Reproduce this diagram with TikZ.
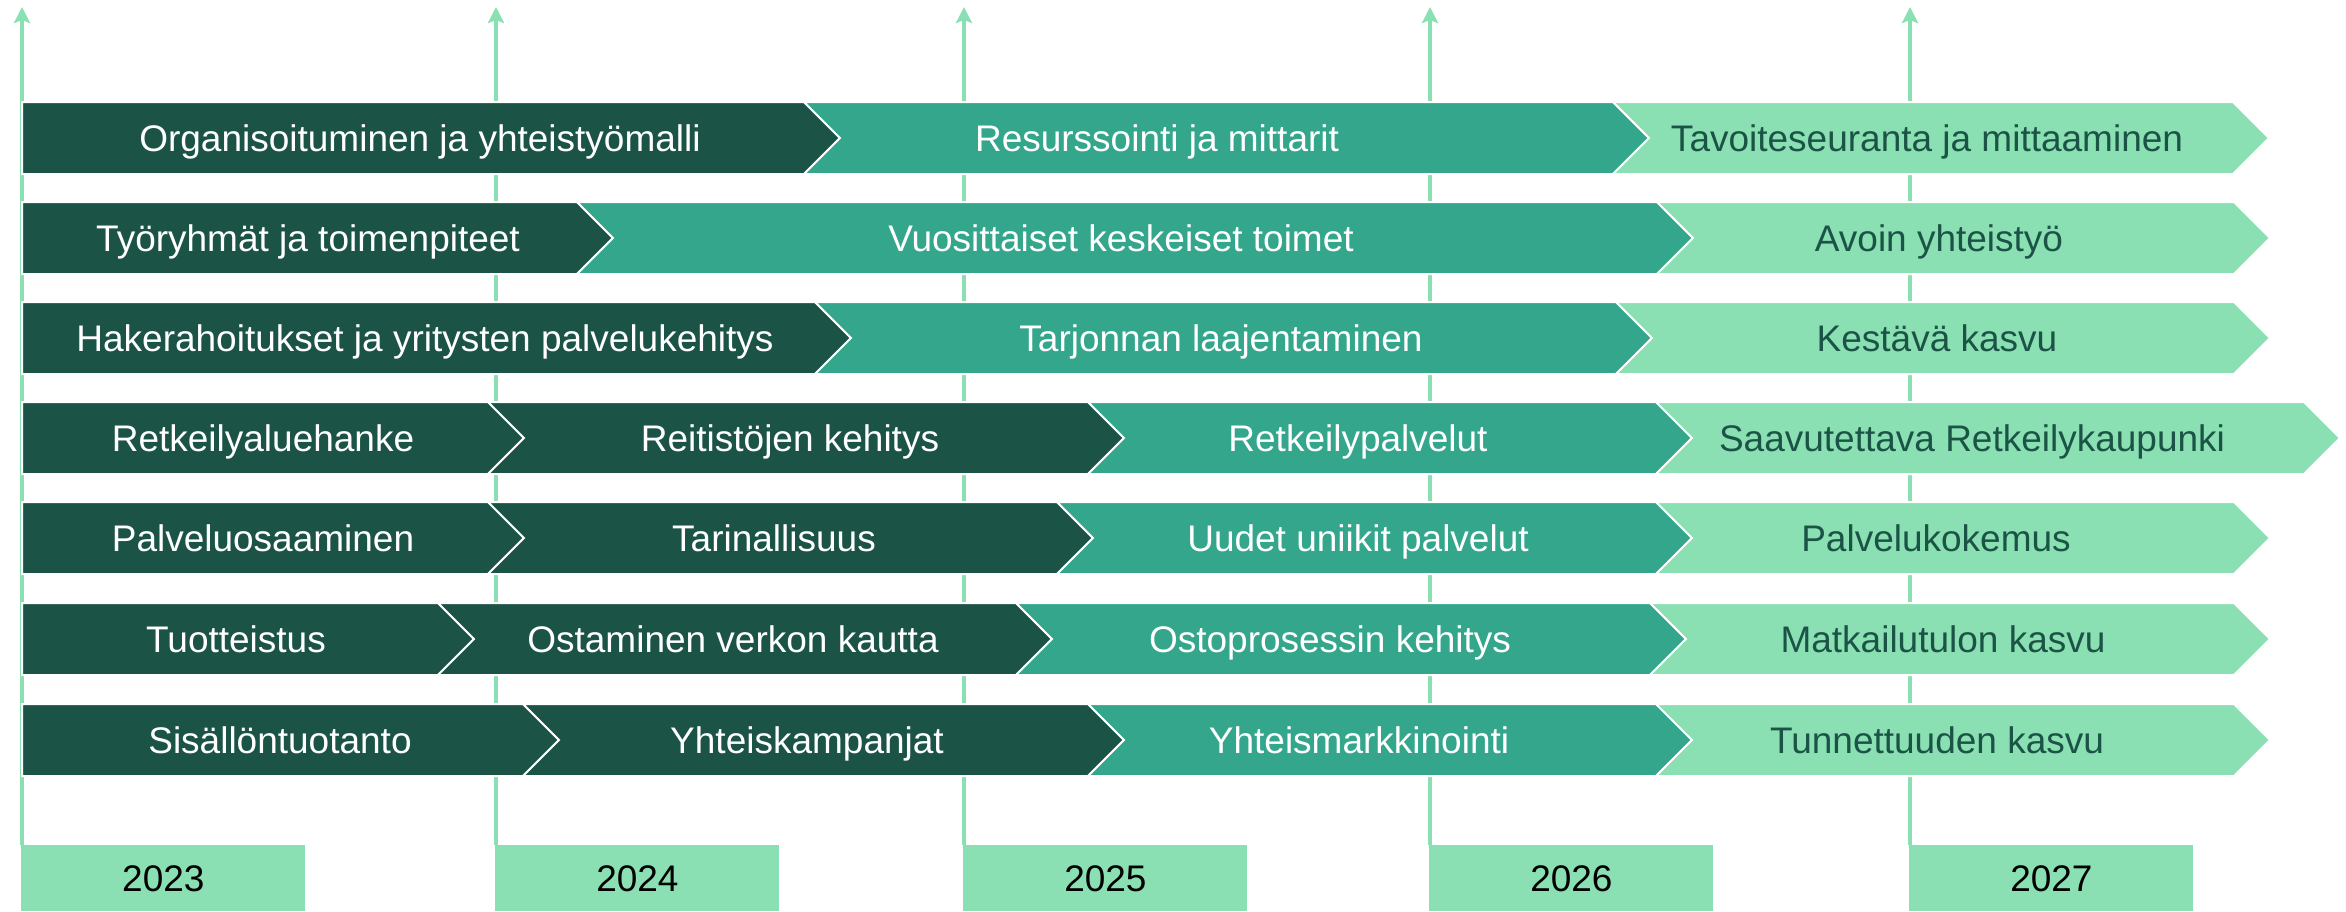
\documentclass[tikz,border=0pt]{standalone}
\usepackage{fontspec}
\setmainfont{Liberation Sans}
\usetikzlibrary{arrows.meta}
\definecolor{darkgreen}{HTML}{1B5446}
\definecolor{midgreen}{HTML}{33A68C}
\definecolor{palegreen}{HTML}{8AE0B2}
\tikzset{
  darkbar/.style={fill=darkgreen, draw=white, line width=1pt},
  midbar/.style={fill=midgreen, draw=white, line width=1pt},
  palebar/.style={fill=palegreen, draw=white, line width=1pt},
  bartext/.style={inner sep=0pt, text height=13.2pt, text depth=0pt, font=\fontsize{18.5}{22}\selectfont},
  darkbartxt/.style={bartext, text=white},
  midbartxt/.style={bartext, text=white},
  palebartxt/.style={bartext, text=darkgreen},
  yearbox/.style={bartext, fill=palegreen, text=black, minimum width=142pt, minimum height=33pt, anchor=north west},
  axis/.style={palegreen, line width=1.8pt, -{Stealth[length=8pt,width=8pt,inset=1.5pt]}}
}
% first chevron of a row: flat left end
\newcommand{\firstchev}[6]{%
  \draw[#4] (22,#2) -- (#3,#2) -- ++(36,36) -- ++(-36,36) -- (22,#2+72) -- cycle;
  \node[#4txt] (#1) at (#5,#2+36) {#6};}
% following chevrons: notched left end
\newcommand{\chevseg}[7]{%
  \draw[#5] (#3,#2) -- (#4,#2) -- ++(36,36) -- ++(-36,36) -- (#3,#2+72) -- ++(36,-36) -- cycle;
  \node[#5txt] (#1) at (#6,#2+36) {#7};}
\begin{document}
\begin{tikzpicture}[x=0.5pt, y=-0.5pt]
\useasboundingbox (0,0) rectangle (2346,911);
% years
\node[yearbox] (y2023) at (21,845) {2023};
\node[yearbox] (y2024) at (495,845) {2024};
\node[yearbox] (y2025) at (963,845) {2025};
\node[yearbox] (y2026) at (1429,845) {2026};
\node[yearbox] (y2027) at (1909,845) {2027};
\coordinate (top) at (0,7);
\foreach \y in {2023,...,2027}
  \draw[axis] ([xshift=0.5pt]y\y.north west) -- ([xshift=0.5pt]y\y.north west |- top);
% row 1
\firstchev{r1a}{102}{804}{darkbar}{420}{Organisoituminen ja yhteistyömalli}
\chevseg{r1b}{102}{804}{1613}{midbar}{1157}{Resurssointi ja mittarit}
\chevseg{r1c}{102}{1613}{2233}{palebar}{1927}{Tavoiteseuranta ja mittaaminen}
% row 2
\firstchev{r2a}{202}{577}{darkbar}{308}{Työryhmät ja toimenpiteet}
\chevseg{r2b}{202}{577}{1657}{midbar}{1121}{Vuosittaiset keskeiset toimet}
\chevseg{r2c}{202}{1657}{2234}{palebar}{1939}{Avoin yhteistyö}
% row 3
\firstchev{r3a}{302}{815}{darkbar}{425}{Hakerahoitukset ja yritysten palvelukehitys}
\chevseg{r3b}{302}{815}{1616}{midbar}{1221}{Tarjonnan laajentaminen}
\chevseg{r3c}{302}{1616}{2234}{palebar}{1937}{Kestävä kasvu}
% row 4
\firstchev{r4a}{402}{488}{darkbar}{263}{Retkeilyaluehanke}
\chevseg{r4b}{402}{488}{1088}{darkbar}{790}{Reitistöjen kehitys}
\chevseg{r4c}{402}{1088}{1656}{midbar}{1358}{Retkeilypalvelut}
\chevseg{r4d}{402}{1656}{2304}{palebar}{1972}{Saavutettava Retkeilykaupunki}
% row 5
\firstchev{r5a}{502}{488}{darkbar}{263}{Palveluosaaminen}
\chevseg{r5b}{502}{488}{1057}{darkbar}{774}{Tarinallisuus}
\chevseg{r5c}{502}{1057}{1656}{midbar}{1358}{Uudet uniikit palvelut}
\chevseg{r5d}{502}{1656}{2234}{palebar}{1936}{Palvelukokemus}
% row 6
\firstchev{r6a}{603}{438}{darkbar}{236}{Tuotteistus}
\chevseg{r6b}{603}{438}{1016}{darkbar}{733}{Ostaminen verkon kautta}
\chevseg{r6c}{603}{1016}{1650}{midbar}{1330}{Ostoprosessin kehitys}
\chevseg{r6d}{603}{1650}{2234}{palebar}{1943}{Matkailutulon kasvu}
% row 7
\firstchev{r7a}{704}{523}{darkbar}{280}{Sisällöntuotanto}
\chevseg{r7b}{704}{523}{1088}{darkbar}{807}{Yhteiskampanjat}
\chevseg{r7c}{704}{1088}{1656}{midbar}{1359}{Yhteismarkkinointi}
\chevseg{r7d}{704}{1656}{2234}{palebar}{1937}{Tunnettuuden kasvu}
\end{tikzpicture}
\end{document}
